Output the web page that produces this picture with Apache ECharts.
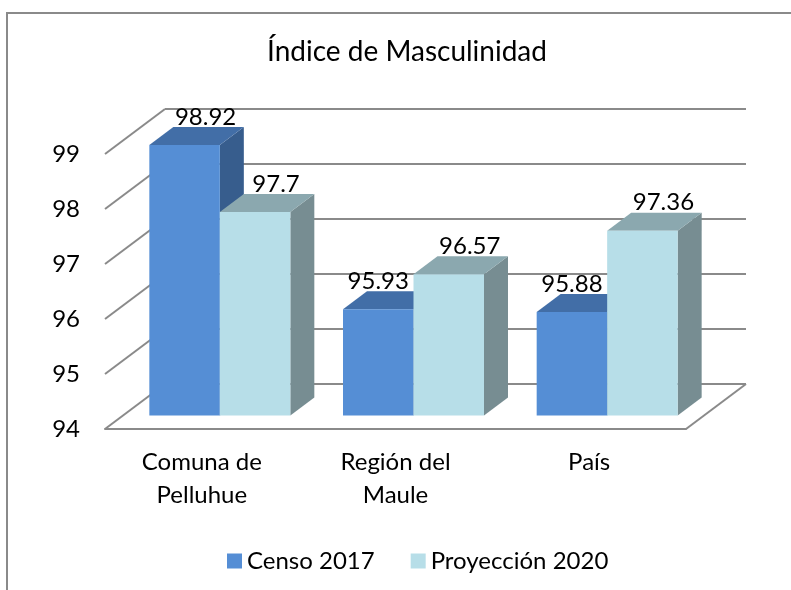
<!DOCTYPE html>
<html><head><meta charset="utf-8">
<script src="https://cdn.jsdelivr.net/npm/echarts@6/dist/echarts.min.js"></script>
<style>html,body{margin:0;padding:0;background:#fff}#c{width:791px;height:590px}</style>
</head><body><div id="c"></div>
<script>
// ---- data ----
const categories = ['Comuna de\nPelluhue', 'Región del\nMaule', 'País'];
const censo2017 = [98.92, 95.93, 95.88];
const proyeccion2020 = [97.7, 96.57, 97.36];
const seriesNames = ['Censo 2017', 'Proyección 2020'];
const yTicks = [94, 95, 96, 97, 98, 99];
const chartTitle = 'Índice de Masculinidad';

// ---- style ----
const FONT = 'Lato, "Noto Sans", sans-serif';
const GRID_COLOR = '#8A8A8A';
const DEPTH_X = 60, DEPTH_Y = -45;      // full floor depth
const BAR_OFF = 0.3;                     // bars' front plane depth fraction
const BAR_DEPTH = 0.4;                   // bar depth fraction
const BAR_FRAC = 0.364;                  // each bar width / band width
const faces = [
  { front: '#558ED5', top: '#426EA7', side: '#375D8D' },
  { front: '#B7DEE8', top: '#8BA8AF', side: '#778D92' }
];
const allValues = [censo2017, proyeccion2020];
const yMin = yTicks[0], yMax = yTicks[yTicks.length - 1];

function barRender(sIdx) {
  return function (params, api) {
    const i = api.value(0), v = api.value(1);
    const c = api.coord([i, v]);
    const base = api.coord([i, yMin]);
    const bw = api.size([1, 0])[0];
    const w = bw * BAR_FRAC;
    const ox = DEPTH_X * BAR_OFF, oy = DEPTH_Y * BAR_OFF;
    const dx = DEPTH_X * BAR_DEPTH, dy = DEPTH_Y * BAR_DEPTH;
    const x0 = c[0] - w + sIdx * w + ox, x1 = x0 + w;
    const yt = c[1] + oy, yb = base[1] + oy;
    const f = faces[sIdx];
    const other = allValues[1 - sIdx][i];
    let lx;
    if (sIdx === 0 && other > v) lx = (x0 + x1) / 2;
    else lx = (x0 + x1) / 2 + dx - 3;
    return {
      type: 'group',
      children: [
        { type: 'polygon', shape: { points: [[x1, yt], [x1 + dx, yt + dy], [x1 + dx, yb + dy], [x1, yb]] }, style: { fill: f.side } },
        { type: 'polygon', shape: { points: [[x0, yt], [x1, yt], [x1 + dx, yt + dy], [x0 + dx, yt + dy]] }, style: { fill: f.top } },
        { type: 'rect', shape: { x: x0, y: yt, width: w, height: yb - yt }, style: { fill: f.front } },
        { type: 'text', z2: 10, style: { text: String(v), x: lx, y: yt + dy + 2, align: 'center', verticalAlign: 'bottom', fill: '#000', font: '24px ' + FONT } }
      ]
    };
  };
}

function wallRender(params, api) {
  const v = api.value(1);
  const bw = api.size([1, 0])[0];
  const c = api.coord([0, v]);
  const left = c[0] - bw / 2;
  const children = [
    { type: 'line', shape: { x1: left, y1: c[1], x2: left + DEPTH_X, y2: c[1] + DEPTH_Y }, style: { stroke: GRID_COLOR, lineWidth: 2 } }
  ];
  if (v === yMin) {
    const r = api.coord([categories.length - 1, v])[0] + bw / 2;
    children.push({ type: 'line', shape: { x1: r, y1: c[1], x2: r + DEPTH_X, y2: c[1] + DEPTH_Y }, style: { stroke: GRID_COLOR, lineWidth: 2 } });
  }
  return { type: 'group', children };
}

const chart = echarts.init(document.getElementById('c'), null, { renderer: 'canvas' });
chart.setOption({
  animation: false,
  backgroundColor: '#fff',
  textStyle: { fontFamily: FONT },
  graphic: [
    { type: 'polyline', shape: { points: [[7, 590], [7, 13], [791, 13]] }, style: { stroke: '#8A8A8A', lineWidth: 2, fill: null } },
    { type: 'text', x: 407, y: 52, style: { text: chartTitle, align: 'center', verticalAlign: 'middle', fill: '#000', font: '28px ' + FONT } }
  ],
  legend: {
    data: seriesNames,
    left: 222, top: 544,
    icon: 'rect', itemWidth: 15, itemHeight: 15, itemGap: 36,
    textStyle: { fontSize: 24, color: '#000', fontFamily: FONT }
  },
  grid: [
    { left: 105, top: 154, width: 581, height: 275 },
    { left: 165, top: 109, width: 581, height: 275 }
  ],
  xAxis: [
    { type: 'category', gridIndex: 0, data: categories,
      axisLine: { show: true, lineStyle: { color: GRID_COLOR, width: 2 } },
      axisTick: { show: false },
      axisLabel: { fontSize: 24, lineHeight: 33, color: '#000', margin: 17, fontFamily: FONT, interval: 0 } },
    { type: 'category', gridIndex: 1, data: categories, show: false }
  ],
  yAxis: [
    { type: 'value', gridIndex: 0, min: yMin, max: yMax, interval: 1,
      axisLine: { show: false }, axisTick: { show: false }, splitLine: { show: false },
      axisLabel: { fontSize: 24, color: '#000', margin: 25, fontFamily: FONT } },
    { type: 'value', gridIndex: 1, min: yMin, max: yMax, interval: 1,
      axisLine: { show: false }, axisTick: { show: false }, axisLabel: { show: false },
      splitLine: { show: true, lineStyle: { color: GRID_COLOR, width: 2 } } }
  ],
  series: [
    { type: 'custom', name: 'walls', xAxisIndex: 0, yAxisIndex: 0, silent: true, z: 1,
      renderItem: wallRender, data: yTicks.map(v => [0, v]), encode: { x: 0, y: 1 } },
    { type: 'custom', name: seriesNames[0], xAxisIndex: 0, yAxisIndex: 0, z: 2,
      itemStyle: { color: faces[0].front },
      renderItem: barRender(0), data: censo2017.map((v, i) => [i, v]), encode: { x: 0, y: 1 } },
    { type: 'custom', name: seriesNames[1], xAxisIndex: 0, yAxisIndex: 0, z: 3,
      itemStyle: { color: faces[1].front },
      renderItem: barRender(1), data: proyeccion2020.map((v, i) => [i, v]), encode: { x: 0, y: 1 } }
  ]
});
</script>
</body></html>
